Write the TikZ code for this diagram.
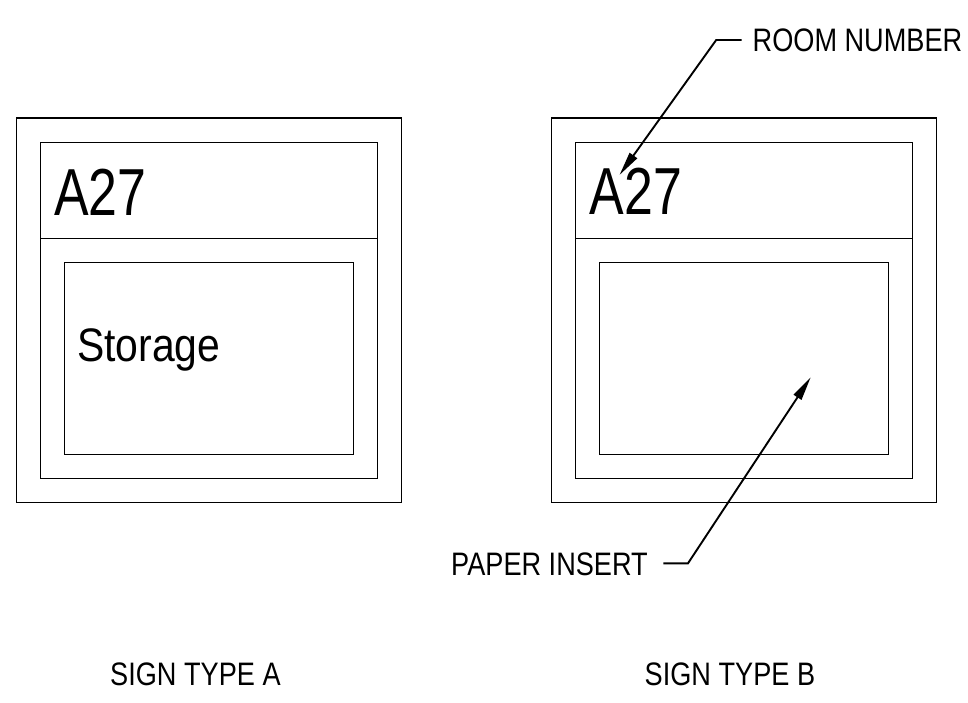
\documentclass[tikz,border=0pt]{standalone}
\usepackage{fontspec}
\setmainfont{Liberation Sans}[FakeStretch=0.835]
\newfontfamily\bigfont{Liberation Sans}[FakeStretch=0.78]
\newfontfamily\midfont{Liberation Sans}[FakeStretch=0.87]
\usetikzlibrary{arrows.meta}
\begin{document}
\begin{tikzpicture}[x=1pt,y=-1pt,
  frame/.style={draw=black,line width=1.1pt},
  lbl/.style={inner sep=0pt,anchor=base west,font=\fontsize{32.5}{36}\selectfont},
  roomtxt/.style={inner sep=0pt,anchor=base west,font=\bigfont\fontsize{66.5}{70}\selectfont},
  nametxt/.style={inner sep=0pt,anchor=base west,font=\midfont\fontsize{47}{50}\selectfont},
  leader/.style={draw=black,line width=1.9pt,-{Triangle[length=24pt,width=9pt]}}]
\useasboundingbox (0,0) rectangle (968,703);
\foreach \dx in {0,535}{
  \begin{scope}[xshift=\dx pt]
    \draw[frame] (16.7,118) rectangle (401.3,502.2);
    \draw[frame] (40.7,142.2) rectangle (377.2,478.2);
    \draw[frame] (40.7,238.2) -- (377.2,238.2);
    \draw[frame] (64.7,262.7) rectangle (353.3,454.3);
  \end{scope}
}
% Sign A texts
\node[roomtxt] (a27a) at (54,215) {A27};
\node[nametxt] (stor) at (77,361.7) {Storage};
\node[lbl] (typea) at (110,685) {SIGN TYPE A};
% Sign B texts
\node[roomtxt] (a27b) at (589.5,214.5) {A27};
\node[lbl] (typeb) at (644.5,685) {SIGN TYPE B};
\node[lbl] (roomnum) at (752.5,51.7) {ROOM NUMBER};
\node[lbl] (paper) at (451,575) {PAPER INSERT};
% leaders
\coordinate (rnStart) at (741.7,40);
\coordinate (rnElbow) at (716.2,40);
\coordinate (rnTip) at (619.5,175);
\coordinate (piStart) at (663.3,563.3);
\coordinate (piElbow) at (688,563.3);
\coordinate (piTip) at (810.7,377.3);
\draw[leader] (rnStart) -- (rnElbow) -- (rnTip);
\draw[leader] (piStart) -- (piElbow) -- (piTip);
\end{tikzpicture}
\end{document}
